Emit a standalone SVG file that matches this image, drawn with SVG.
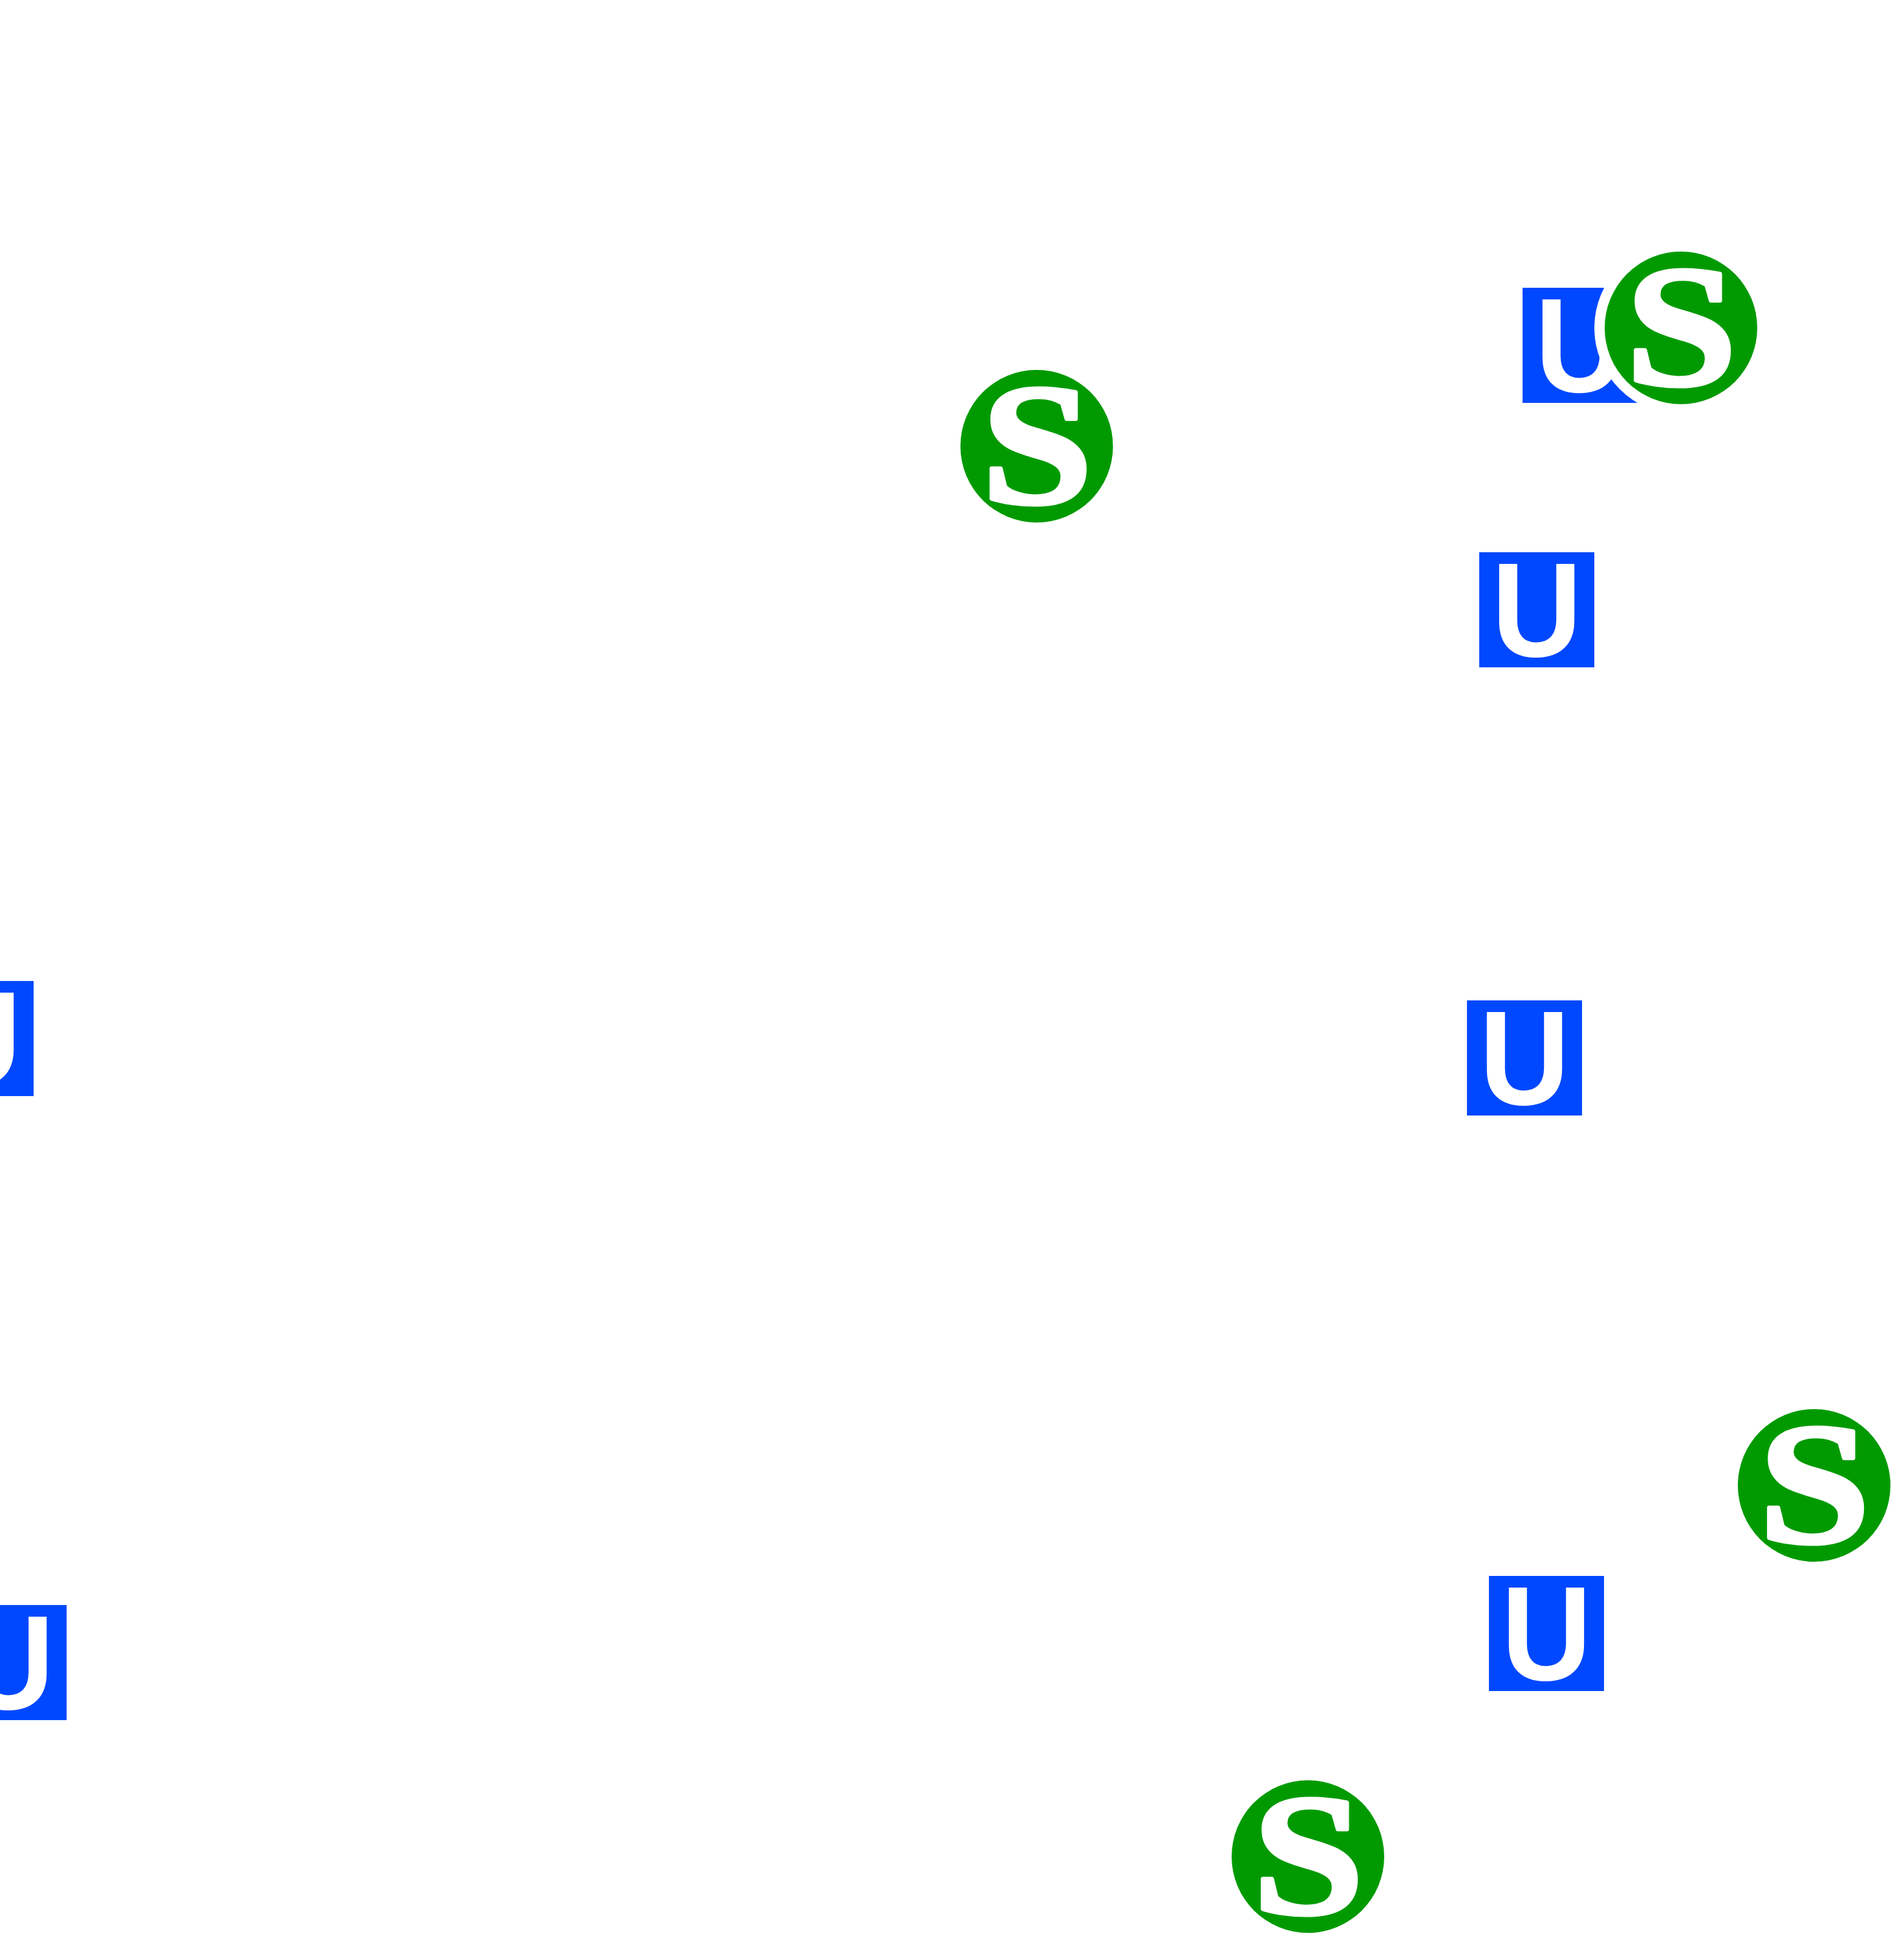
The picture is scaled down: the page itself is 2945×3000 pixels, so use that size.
<svg xmlns="http://www.w3.org/2000/svg" width="2945" height="3000" viewBox="0 0 2945 3000">
<style>
.box{fill:#0048ff}
.disc{fill:#009a00}
.halo{fill:#fff}
.u,.s{fill:#fff;font-weight:700;text-anchor:middle}
.u{font-family:"Liberation Sans",Arial,sans-serif;font-size:208px}
.s{font-family:"Liberation Serif","Times New Roman",serif;font-size:268px;stroke:#fff;stroke-width:6px;stroke-linejoin:round}
</style>
<rect width="2945" height="3000" fill="#fff"/>
<g id="u1s1">
<rect class="box" x="2355" y="445" width="178" height="178"/>
<text class="u" transform="translate(2444 606) scale(.93 1)">U</text>
<circle class="halo" cx="2600" cy="507" r="134"/>
<circle class="disc" cx="2600" cy="507" r="118"/>
<text class="s" transform="translate(2600.5 595) scale(1.16 1)">S</text>
</g>
<g id="s2">
<circle class="disc" cx="1603.5" cy="690" r="118"/>
<text class="s" transform="translate(1604 778) scale(1.16 1)">S</text>
</g>
<g id="u2">
<rect class="box" x="2288" y="854" width="178" height="178"/>
<text class="u" transform="translate(2377 1015) scale(.93 1)">U</text>
</g>
<g id="u3">
<rect class="box" x="2269" y="1547" width="178" height="178"/>
<text class="u" transform="translate(2358 1708) scale(.93 1)">U</text>
</g>
<g id="u4">
<rect class="box" x="-126" y="1517" width="178" height="178"/>
<text class="u" transform="translate(-37 1678) scale(.93 1)">U</text>
</g>
<g id="s3">
<circle class="disc" cx="2806" cy="2297" r="118"/>
<text class="s" transform="translate(2806.5 2385) scale(1.16 1)">S</text>
</g>
<g id="u5">
<rect class="box" x="2303" y="2437" width="178" height="178"/>
<text class="u" transform="translate(2392 2598) scale(.93 1)">U</text>
</g>
<g id="u6">
<rect class="box" x="-75" y="2482" width="178" height="178"/>
<text class="u" transform="translate(14 2643) scale(.93 1)">U</text>
</g>
<g id="s4">
<circle class="disc" cx="2023" cy="2871" r="118"/>
<text class="s" transform="translate(2023.5 2959) scale(1.16 1)">S</text>
</g>
</svg>
